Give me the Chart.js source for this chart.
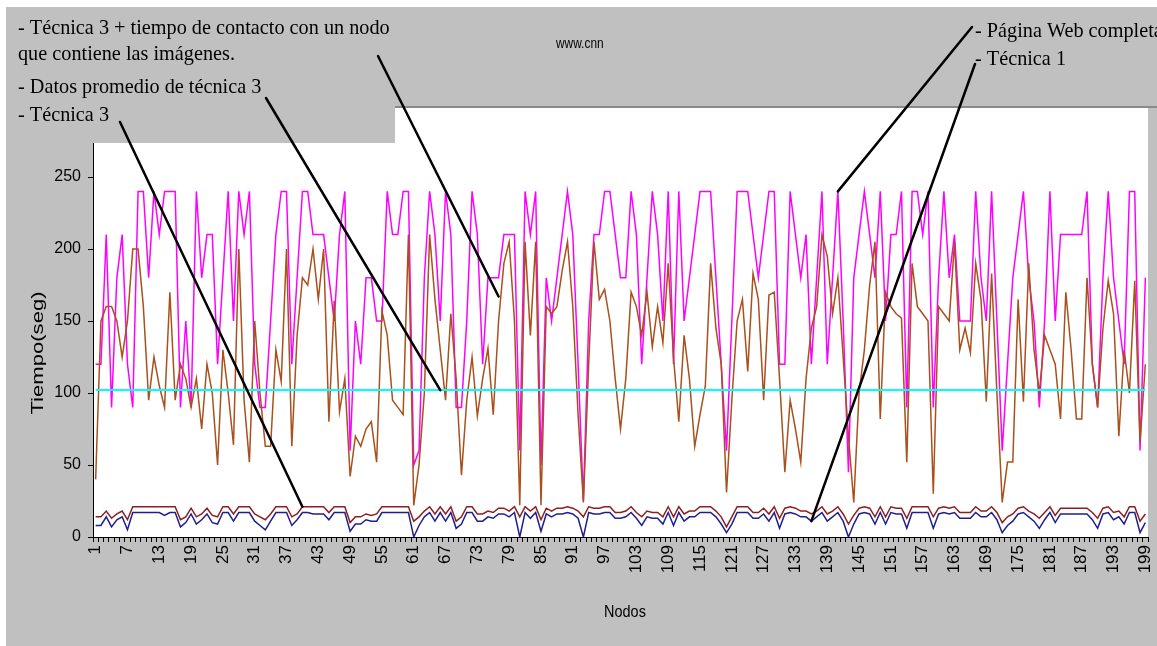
<!DOCTYPE html>
<html>
<head>
<meta charset="utf-8">
<script src="https://cdn.jsdelivr.net/npm/chart.js@4.4.1/dist/chart.umd.min.js"></script>
<style>
  html, body { margin: 0; padding: 0; background: #fff; }
  #wrap { width: 1157px; height: 646px; }
</style>
</head>
<body>
<div id="wrap"><canvas id="grafico"></canvas></div>
<script>
// Nodos 1..199 (categorias del eje X)
const nodos = Array.from({ length: 199 }, (_, i) => String(i + 1));

// Pagina Web completa (magenta)
const paginaWeb = [
  120,120,210,90,180,210,120,90,240,240,180,240,210,240,240,240,90,150,90,240,180,210,210,120,180,240,
  150,240,210,240,120,90,90,150,210,240,240,120,180,240,240,210,210,210,180,150,210,240,60,150,120,
  180,180,150,150,240,210,210,240,240,50,60,180,240,210,150,240,210,90,90,150,240,210,120,180,180,
  180,210,210,210,60,240,210,240,50,180,150,180,210,240,210,120,25,150,210,210,240,240,210,180,180,
  240,210,120,180,240,210,150,240,120,240,150,180,210,240,240,240,180,120,60,150,240,240,240,210,180,210,
  240,240,120,120,240,210,180,210,120,180,240,120,180,240,150,45,180,210,240,210,180,240,150,210,210,
  240,90,240,240,210,240,90,180,240,180,210,150,150,150,240,180,150,240,150,60,120,180,210,240,180,
  150,90,150,240,150,210,210,210,210,210,240,120,90,180,240,180,150,120,240,240,60,180
];

// Tecnica 3 + tiempo de contacto con un nodo que contiene las imagenes (marron)
const tecnica3Contacto = [
  40,150,160,160,150,125,150,200,200,160,95,125,105,90,170,95,120,110,90,110,75,120,100,50,130,100,
  64,200,95,52,150,100,63,63,130,108,200,63,140,180,175,200,165,200,80,164,87,110,42,70,63,
  75,80,52,157,140,95,90,85,210,22,50,100,210,165,130,95,155,110,43,95,125,84,110,131,85,
  150,190,205,150,22,205,140,205,22,160,155,160,185,205,160,85,24,120,205,165,172,150,110,75,110,
  170,160,140,170,132,160,135,190,125,80,140,110,63,85,105,190,145,120,31,95,150,165,115,183,165,95,
  168,170,110,45,95,75,52,110,145,160,210,195,155,180,125,70,24,100,130,175,205,82,170,160,155,
  152,52,190,160,155,150,30,160,155,150,205,130,145,128,190,165,94,183,100,24,52,52,165,94,190,
  130,100,140,130,120,82,170,130,82,82,180,120,90,145,178,155,70,130,100,178,66,120
];

// Datos promedio de tecnica 3 (cian)
const promedioTecnica3 = 102;

// Tecnica 3 (rojo oscuro)
const tecnica3 = [
  14,14,18,13,16,18,12,21,21,21,21,21,21,21,21,21,12,14,20,14,16,20,15,14,21,
  21,16,21,21,21,16,14,12,16,21,21,21,14,16,21,21,21,21,21,17,21,21,21,10,14,
  14,16,15,16,21,21,21,21,21,21,11,14,18,21,16,21,16,21,11,14,21,21,16,16,18,
  17,20,20,18,21,14,21,18,21,12,20,18,20,20,21,20,18,14,21,20,20,21,21,17,17,
  18,21,17,14,18,17,17,14,21,14,21,16,18,18,21,21,21,18,14,7,14,21,21,21,17,
  17,20,16,21,13,20,21,20,18,18,16,18,21,16,18,21,16,9,15,20,21,20,14,21,14,
  21,20,20,13,21,21,21,21,14,20,21,20,21,17,17,17,21,18,18,21,17,10,14,16,20,
  21,18,16,13,17,21,15,20,20,20,20,20,20,17,13,20,21,17,18,14,21,21,11,16
];

// Tecnica 1 (azul oscuro)
const tecnica1 = [
  8,8,14,7,12,14,5,17,17,17,17,17,17,15,17,17,7,10,16,9,12,16,10,9,17,
  17,11,17,17,17,11,8,5,11,17,17,17,8,12,17,17,16,16,16,12,17,17,17,4,9,
  9,12,11,11,17,17,17,17,17,17,0,8,14,17,11,17,11,17,6,9,17,17,11,11,14,
  13,16,16,14,17,0,17,13,17,4,16,14,16,16,17,16,13,0,17,16,16,17,17,13,13,
  14,17,13,8,14,13,13,9,17,8,17,11,14,14,17,17,17,14,9,3,9,17,17,17,13,
  13,16,11,17,6,16,17,16,14,14,11,14,17,11,14,17,11,0,9,16,17,16,9,17,9,
  17,16,16,6,17,17,17,17,6,16,17,16,17,13,13,13,17,14,14,17,12,3,8,11,16,
  17,14,11,6,12,17,10,16,16,16,16,16,16,12,6,16,17,12,14,9,17,17,3,10
];

const GRIS = '#c0c0c0';
const SERIF = '"Liberation Serif", "Times New Roman", serif';
const SANS = '"Liberation Sans", Arial, sans-serif';

// texto comprimido en horizontal, como en la imagen original
function escribir(ctx, s, px, py, sx) {
  ctx.save();
  ctx.translate(px, py);
  ctx.scale(sx, 1);
  ctx.fillText(s, 0, 0);
  ctx.restore();
}

// lineas de las etiquetas: desde el cuadro de texto hasta un punto de la serie
const flechas = [
  { desde: [378, 56], nodo: 77, valor: 167 },
  { desde: [266, 98], nodo: 66, valor: promedioTecnica3 },
  { desde: [120, 122], nodo: 40, valor: 21 },
  { desde: [972, 27], nodo: 141, valor: 240 },
  { desde: [975, 64], nodo: 136, valor: 11 }
];

const fondo = {
  id: 'fondo',
  beforeDraw(chart) {
    const { ctx, chartArea: a } = chart;
    ctx.save();
    ctx.fillStyle = '#ffffff';
    ctx.fillRect(0, 0, chart.width, chart.height);
    ctx.fillStyle = GRIS;
    ctx.fillRect(6, 7, chart.width - 6, chart.height - 7);
    ctx.fillStyle = '#ffffff';
    ctx.fillRect(a.left, a.top, a.right - a.left, a.bottom - a.top);
    ctx.restore();
  }
};

const anotaciones = {
  id: 'anotaciones',
  afterDraw(chart) {
    const { ctx } = chart;
    const x = chart.scales.x, y = chart.scales.y;
    ctx.save();

    // franja superior y cuadro de la izquierda
    ctx.fillStyle = GRIS;
    ctx.fillRect(6, 7, chart.width - 6, 100);
    ctx.fillRect(6, 7, 389, 136);
    ctx.strokeStyle = '#8a8a8a';
    ctx.lineWidth = 2;
    ctx.beginPath();
    ctx.moveTo(395, 107);
    ctx.lineTo(chart.width, 107);
    ctx.stroke();

    // textos
    ctx.fillStyle = '#000';
    ctx.textBaseline = 'alphabetic';
    ctx.font = '22px ' + SERIF;
    escribir(ctx, '- Técnica 3 + tiempo de contacto con un nodo', 18, 34, 0.92);
    escribir(ctx, 'que contiene las imágenes.', 18, 60, 0.92);
    escribir(ctx, '- Datos promedio de técnica 3', 18, 93, 0.92);
    escribir(ctx, '- Técnica 3', 18, 121, 0.92);
    escribir(ctx, '- Página Web completa', 975, 37, 0.92);
    escribir(ctx, '- Técnica 1', 975, 65, 0.92);

    ctx.font = '14px ' + SANS;
    escribir(ctx, 'www.cnn', 556, 48, 0.85);

    // titulos de los ejes
    ctx.font = '17px ' + SANS;
    ctx.textAlign = 'center';
    escribir(ctx, 'Nodos', 625, 617, 0.85);
    ctx.save();
    ctx.translate(43, 353);
    ctx.rotate(-Math.PI / 2);
    ctx.scale(1.3, 1);
    ctx.fillText('Tiempo(seg)', 0, 0);
    ctx.restore();

    // lineas de las etiquetas
    ctx.strokeStyle = '#000';
    ctx.lineWidth = 2.5;
    ctx.lineCap = 'round';
    flechas.forEach(f => {
      ctx.beginPath();
      ctx.moveTo(f.desde[0], f.desde[1]);
      ctx.lineTo(x.getPixelForValue(f.nodo - 1), y.getPixelForValue(f.valor));
      ctx.stroke();
    });
    ctx.restore();
  }
};

new Chart(document.getElementById('grafico'), {
  type: 'line',
  data: {
    labels: nodos,
    datasets: [
      {
        label: 'Datos promedio de técnica 3',
        data: [{ x: nodos[0], y: promedioTecnica3 }, { x: nodos[nodos.length - 1], y: promedioTecnica3 }],
        borderColor: '#00ffff',
        borderWidth: 2
      },
      { label: 'Técnica 3', data: tecnica3, borderColor: '#8e1f1f', borderWidth: 1.5 },
      { label: 'Técnica 1', data: tecnica1, borderColor: '#1f1f8e', borderWidth: 1.5 },
      {
        label: 'Técnica 3 + tiempo de contacto con un nodo que contiene las imágenes',
        data: tecnica3Contacto,
        borderColor: '#a9501c',
        borderWidth: 1.5
      },
      { label: 'Página Web completa', data: paginaWeb, borderColor: '#ff00ff', borderWidth: 1.5 }
    ]
  },
  options: {
    animation: false,
    responsive: true,
    maintainAspectRatio: false,
    layout: { padding: { left: 0, right: 9, top: 105, bottom: 0 } },
    elements: { point: { radius: 0 }, line: { tension: 0 } },
    plugins: { legend: { display: false }, tooltip: { enabled: false } },
    scales: {
      x: {
        type: 'category',
        offset: true,
        grid: { offset: true, drawOnChartArea: false, tickLength: 5, color: '#000' },
        border: { color: '#000', width: 1 },
        ticks: {
          autoSkip: false,
          minRotation: 90,
          maxRotation: 90,
          padding: 3,
          color: '#000',
          font: { family: SANS, size: 17 },
          callback: (v, i) => (i % 6 === 0 ? nodos[i] : '')
        },
        afterFit: s => { s.height = 109; s.paddingLeft = 0; s.paddingRight = 0; }
      },
      y: {
        min: 0,
        max: 300,
        ticks: { stepSize: 50, padding: 7, color: '#000', font: { family: SANS, size: 16 } },
        grid: { drawOnChartArea: false, tickLength: 5, color: '#000' },
        border: { color: '#000', width: 1 },
        afterFit: s => { s.width = 93; s.paddingTop = 0; s.paddingBottom = 0; }
      }
    }
  },
  plugins: [fondo, anotaciones]
});
</script>
</body>
</html>
